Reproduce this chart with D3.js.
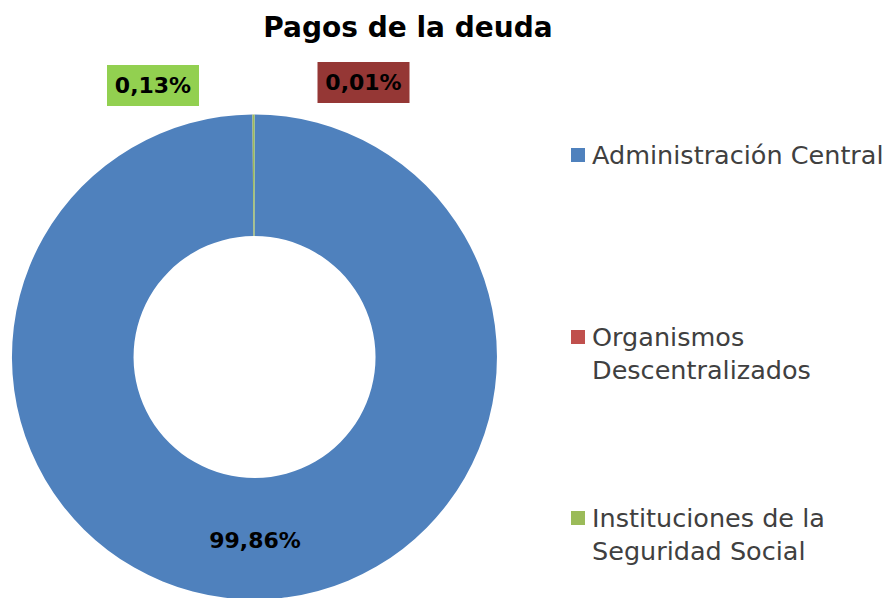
<!DOCTYPE html>
<html>
<head>
<meta charset="utf-8">
<script src="https://cdn.jsdelivr.net/npm/d3@7"></script>
<style>
  body { margin: 0; background: #fff; }
  text { font-family: "DejaVu Sans", sans-serif; }
</style>
</head>
<body>
<svg id="chart" width="893" height="598"></svg>
<script>
// datos del gráfico
const categories = ["Administración Central", "Organismos Descentralizados", "Instituciones de la Seguridad Social"];
const values = [99.86, 0.01, 0.13];
const labels = ["99,86%", "0,01%", "0,13%"];
const colors = ["#4F81BD", "#C0504D", "#9BBB59"];
const legendLines = [["Administración Central"], ["Organismos", "Descentralizados"], ["Instituciones de la", "Seguridad Social"]];

const svg = d3.select("#chart");
const cx = 254.5, cy = 357, outerR = 242.5, innerR = 121;

svg.append("text")
    .attr("x", 408).attr("y", 37)
    .attr("text-anchor", "middle")
    .attr("font-size", "28px")
    .attr("font-weight", "bold")
    .attr("fill", "#000")
    .text("Pagos de la deuda");

const pie = d3.pie().sort(null).value(d => d);
const arcs = pie(values);
const arc = d3.arc().innerRadius(innerR).outerRadius(outerR);

const g = svg.append("g").attr("transform", `translate(${cx},${cy})`);

g.selectAll("path")
    .data(arcs)
    .enter()
    .append("path")
    .attr("d", arc)
    .attr("fill", (d, i) => colors[i]);

// etiquetas de datos
const labelPos = [
    { x: 255, y: 540, box: null },
    { x: 363.5, y: 82.5, box: "#953735" },
    { x: 153, y: 85.5, box: "#92D050" }
];

labels.forEach((t, i) => {
    const p = labelPos[i];
    if (p.box) {
        svg.append("rect")
            .attr("x", p.x - 46).attr("y", p.y - 20.5)
            .attr("width", 92).attr("height", 41)
            .attr("fill", p.box);
    }
    svg.append("text")
        .attr("x", p.x).attr("y", p.y)
        .attr("dy", "0.36em")
        .attr("text-anchor", "middle")
        .attr("font-size", "22px")
        .attr("font-weight", "bold")
        .attr("fill", "#000")
        .text(t);
});

// leyenda
const legendY = [155, 337, 518];
legendLines.forEach((lines, i) => {
    svg.append("rect")
        .attr("x", 571).attr("y", legendY[i] - 7)
        .attr("width", 14).attr("height", 14)
        .attr("fill", colors[i]);
    lines.forEach((ln, j) => {
        svg.append("text")
            .attr("x", 592).attr("y", legendY[i] + j * 33)
            .attr("dy", "0.36em")
            .attr("font-size", "25.5px")
            .attr("fill", "#404040")
            .text(ln);
    });
});
</script>
</body>
</html>
